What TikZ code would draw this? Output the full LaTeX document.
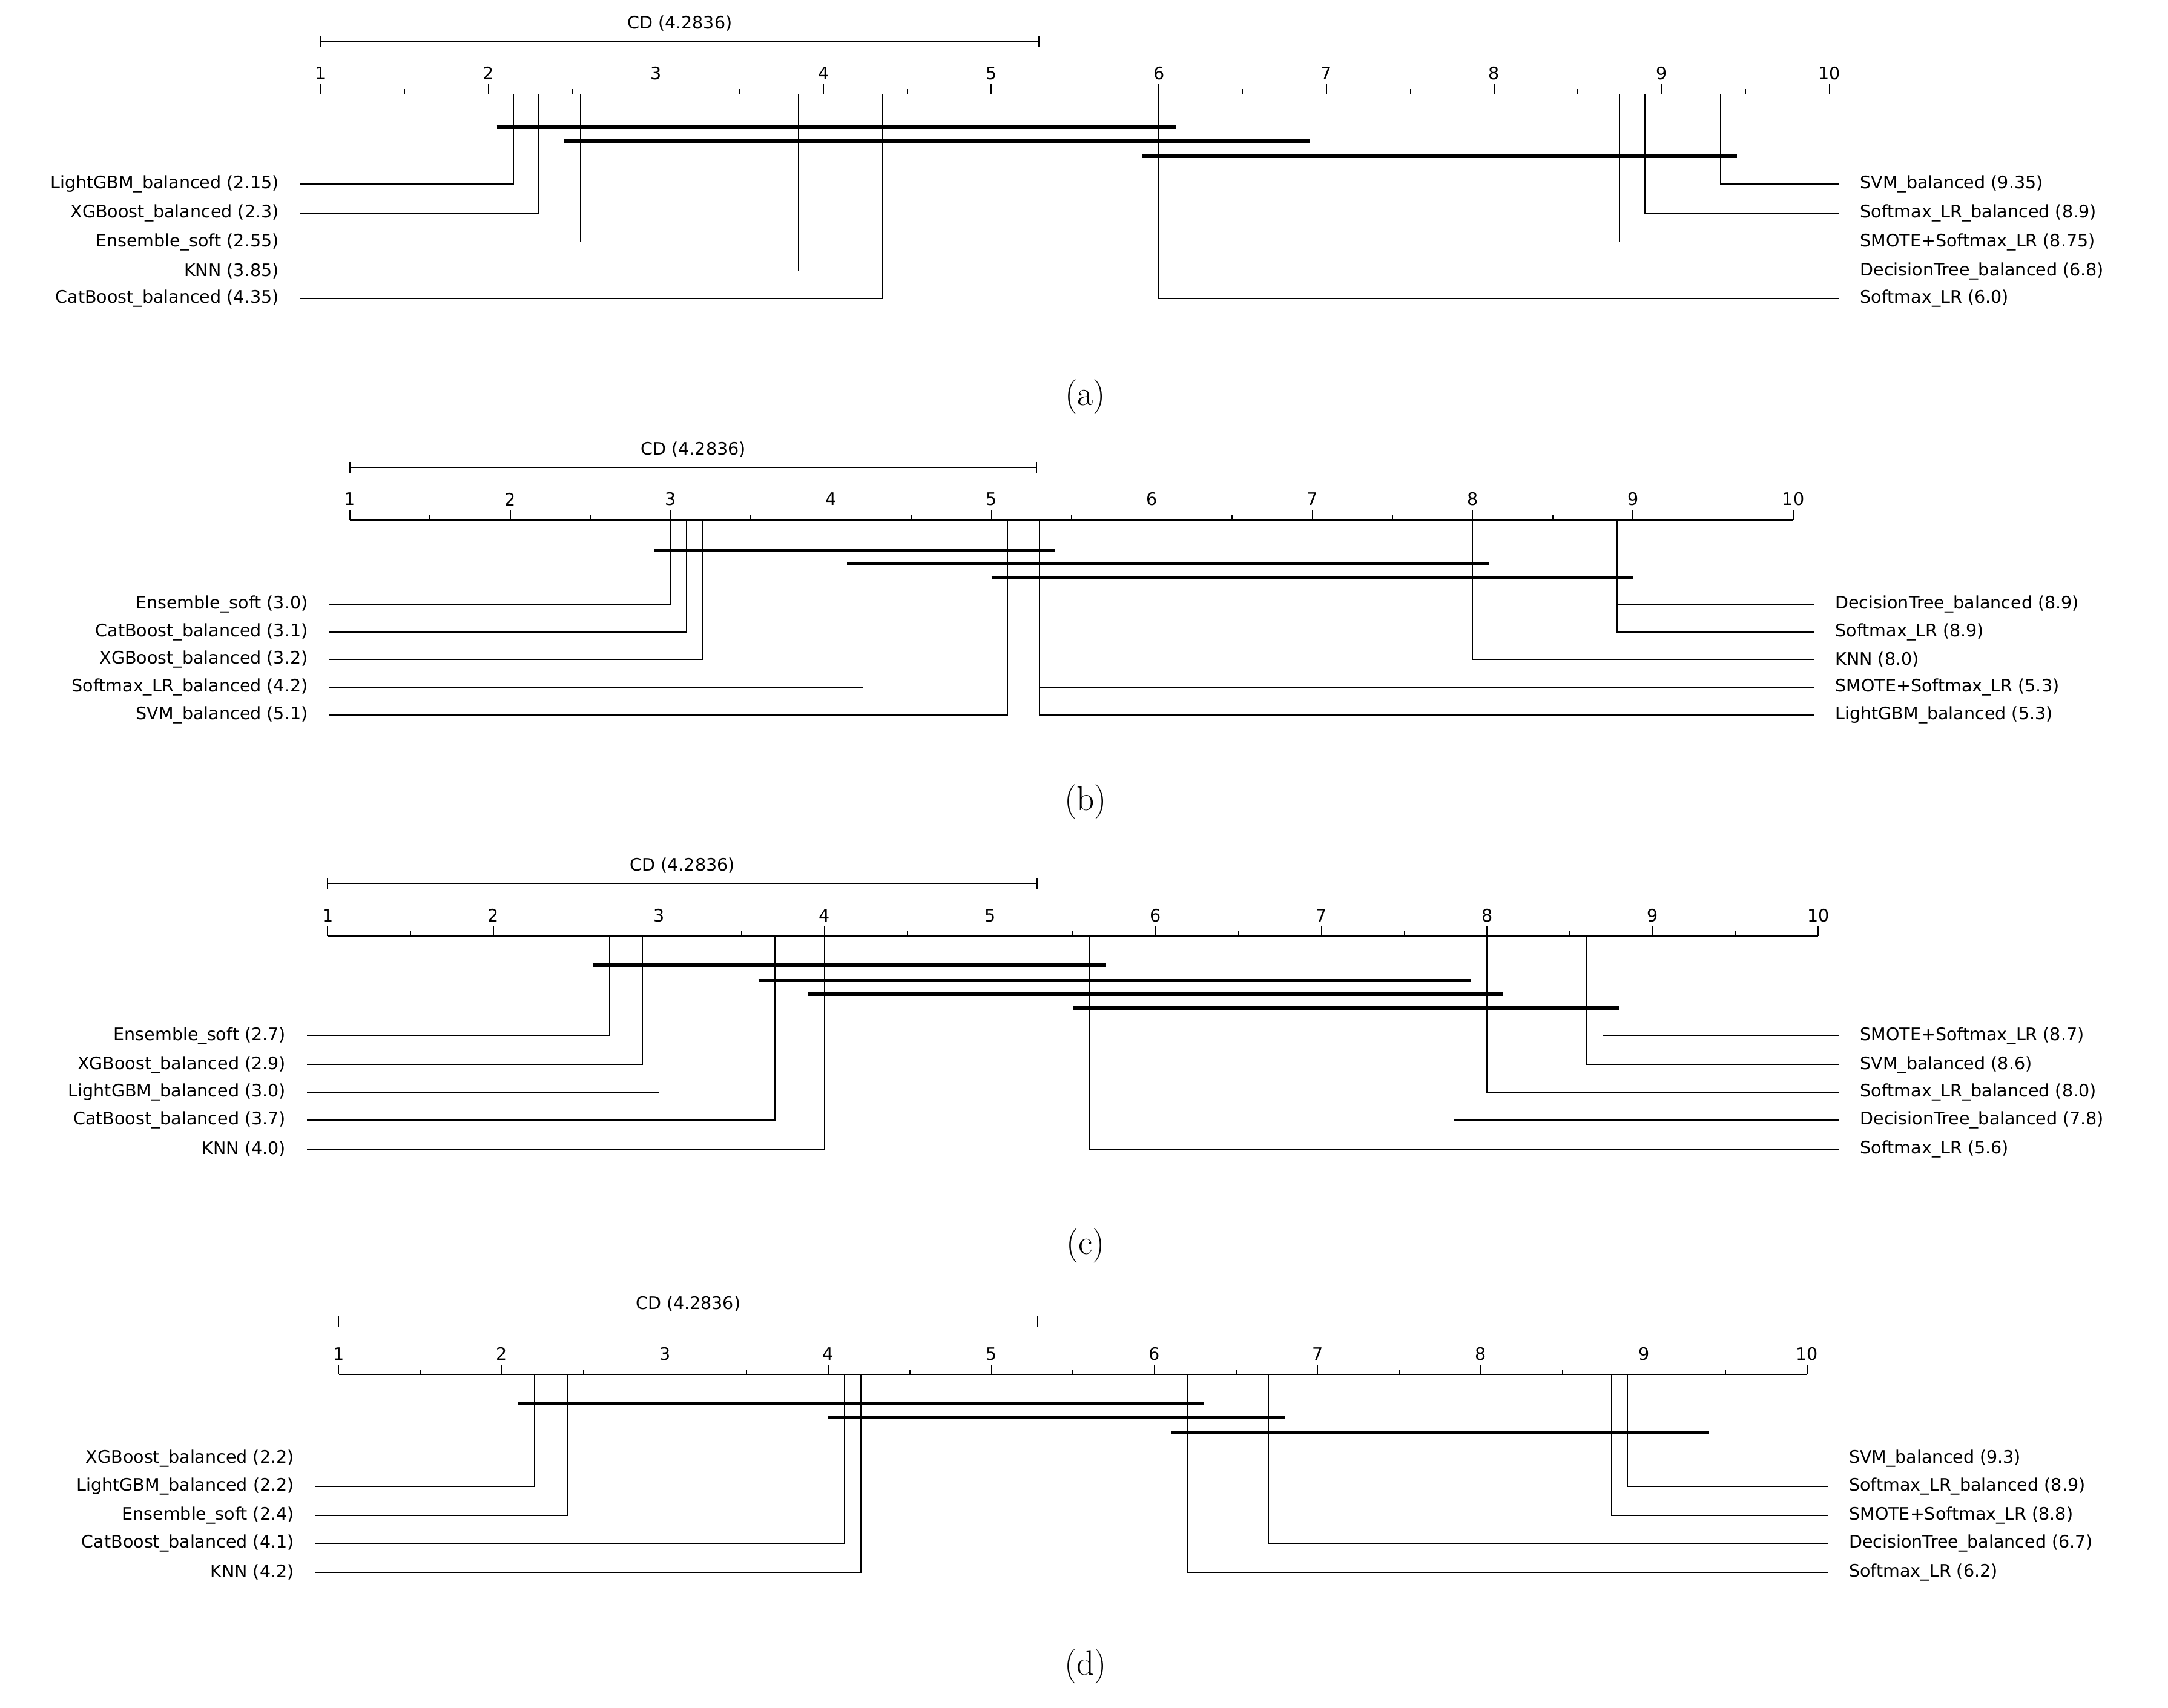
\documentclass[tikz,border=0pt]{standalone}
\usepackage{fontspec}
\setsansfont{DejaVu Sans}
\usetikzlibrary{calc}
\begin{document}
\begin{tikzpicture}[x=1pt,y=-1pt,line width=0.7pt,
  lab/.style={font=\sffamily\fontsize{12.5}{14}\selectfont,inner sep=0pt},
  captext/.style={font=\fontsize{25}{28}\selectfont,inner sep=0pt},
  clique/.style={line width=2.3pt}]
\useasboundingbox (0,0) rectangle (1568,1235);
\newcommand\rk[1]{\PA+(#1-1)*(\PB-\PA)/9}
\newcommand\axisbox[8]{% id, axis y, xa, xb, lx, rx, caption y, caption
 \xdef\PY{#2}\xdef\PA{#3}\xdef\PB{#4}\xdef\PL{#5}\xdef\PR{#6}
 \draw (\PA,\PY) -- (\PB,\PY);
 \foreach \k in {1,...,10} {\draw ({\rk{\k}},\PY) -- ({\rk{\k}},\PY-7);
   \node[lab] (#1t\k) at ({\rk{\k}},\PY-15) {\k};}
 \foreach \k in {1.5,2.5,...,9.5} \draw ({\rk{\k}},\PY) -- ({\rk{\k}},\PY-3.5);
 \coordinate (#1cda) at ({\rk{1}},\PY-38);
 \coordinate (#1cdb) at ({\rk{5.2836}},\PY-38);
 \draw (#1cda) -- (#1cdb);
 \draw ({\rk{1}},\PY-42) -- ({\rk{1}},\PY-34);
 \draw ({\rk{5.2836}},\PY-42) -- ({\rk{5.2836}},\PY-34);
 \node[lab] (#1cd) at ($(#1cda)!0.5!(#1cdb)+(0,-13)$) {CD (4.2836)};
 \node[captext] (#1cap) at (785,#7) {#8};
}
\newcommand\lrow[4]{% name rank y text
 \coordinate (#1c) at ({\rk{#2}},#3);
 \draw (\PL,#3) -- (#1c) -- ({\rk{#2}},\PY);
 \node[lab,anchor=east] (#1) at (\PL-15,#3) {#4};}
\newcommand\rrow[4]{%
 \coordinate (#1c) at ({\rk{#2}},#3);
 \draw (\PR,#3) -- (#1c) -- ({\rk{#2}},\PY);
 \node[lab,anchor=west] (#1) at (\PR+15,#3) {#4};}
\newcommand\cbar[4]{%
 \coordinate (#1a) at ({\rk{#2-0.1}},#4);
 \coordinate (#1b) at ({\rk{#3+0.1}},#4);
 \draw[clique] (#1a) -- (#1b);}
% (a)
\axisbox{a}{68}{232}{1323}{217}{1330}{287}{(a)}
\lrow{al1}{2.15}{133}{LightGBM\_balanced (2.15)}
\lrow{al2}{2.3}{154}{XGBoost\_balanced (2.3)}
\lrow{al3}{2.55}{175}{Ensemble\_soft (2.55)}
\lrow{al4}{3.85}{196}{KNN (3.85)}
\lrow{al5}{4.35}{216}{CatBoost\_balanced (4.35)}
\rrow{ar1}{9.35}{133}{SVM\_balanced (9.35)}
\rrow{ar2}{8.9}{154}{Softmax\_LR\_balanced (8.9)}
\rrow{ar3}{8.75}{175}{SMOTE+Softmax\_LR (8.75)}
\rrow{ar4}{6.8}{196}{DecisionTree\_balanced (6.8)}
\rrow{ar5}{6.0}{216}{Softmax\_LR (6.0)}
\cbar{ab1}{2.15}{6.0}{92}
\cbar{ab2}{2.55}{6.8}{102}
\cbar{ab3}{6.0}{9.35}{113}
% (b)
\axisbox{b}{376}{253}{1297}{238}{1312}{580}{(b)}
\lrow{bl1}{3.0}{437}{Ensemble\_soft (3.0)}
\lrow{bl2}{3.1}{457}{CatBoost\_balanced (3.1)}
\lrow{bl3}{3.2}{477}{XGBoost\_balanced (3.2)}
\lrow{bl4}{4.2}{497}{Softmax\_LR\_balanced (4.2)}
\lrow{bl5}{5.1}{517}{SVM\_balanced (5.1)}
\rrow{br1}{8.9}{437}{DecisionTree\_balanced (8.9)}
\rrow{br2}{8.9}{457}{Softmax\_LR (8.9)}
\rrow{br3}{8.0}{477}{KNN (8.0)}
\rrow{br4}{5.3}{497}{SMOTE+Softmax\_LR (5.3)}
\rrow{br5}{5.3}{517}{LightGBM\_balanced (5.3)}
\cbar{bb1}{3.0}{5.3}{398}
\cbar{bb2}{4.2}{8.0}{408}
\cbar{bb3}{5.1}{8.9}{418}
% (c)
\axisbox{c}{677}{237}{1315}{222}{1330}{901}{(c)}
\lrow{cl1}{2.7}{749}{Ensemble\_soft (2.7)}
\lrow{cl2}{2.9}{770}{XGBoost\_balanced (2.9)}
\lrow{cl3}{3.0}{790}{LightGBM\_balanced (3.0)}
\lrow{cl4}{3.7}{810}{CatBoost\_balanced (3.7)}
\lrow{cl5}{4.0}{831}{KNN (4.0)}
\rrow{cr1}{8.7}{749}{SMOTE+Softmax\_LR (8.7)}
\rrow{cr2}{8.6}{770}{SVM\_balanced (8.6)}
\rrow{cr3}{8.0}{790}{Softmax\_LR\_balanced (8.0)}
\rrow{cr4}{7.8}{810}{DecisionTree\_balanced (7.8)}
\rrow{cr5}{5.6}{831}{Softmax\_LR (5.6)}
\cbar{cb1}{2.7}{5.6}{698}
\cbar{cb2}{3.7}{7.8}{709}
\cbar{cb3}{4.0}{8.0}{719}
\cbar{cb4}{5.6}{8.7}{729}
% (d)
\axisbox{d}{994}{245}{1307}{228}{1322}{1205}{(d)}
\lrow{dl1}{2.2}{1055}{XGBoost\_balanced (2.2)}
\lrow{dl2}{2.2}{1075}{LightGBM\_balanced (2.2)}
\lrow{dl3}{2.4}{1096}{Ensemble\_soft (2.4)}
\lrow{dl4}{4.1}{1116}{CatBoost\_balanced (4.1)}
\lrow{dl5}{4.2}{1137}{KNN (4.2)}
\rrow{dr1}{9.3}{1055}{SVM\_balanced (9.3)}
\rrow{dr2}{8.9}{1075}{Softmax\_LR\_balanced (8.9)}
\rrow{dr3}{8.8}{1096}{SMOTE+Softmax\_LR (8.8)}
\rrow{dr4}{6.7}{1116}{DecisionTree\_balanced (6.7)}
\rrow{dr5}{6.2}{1137}{Softmax\_LR (6.2)}
\cbar{db1}{2.2}{6.2}{1015}
\cbar{db2}{4.1}{6.7}{1025}
\cbar{db3}{6.2}{9.3}{1036}
\end{tikzpicture}
\end{document}
